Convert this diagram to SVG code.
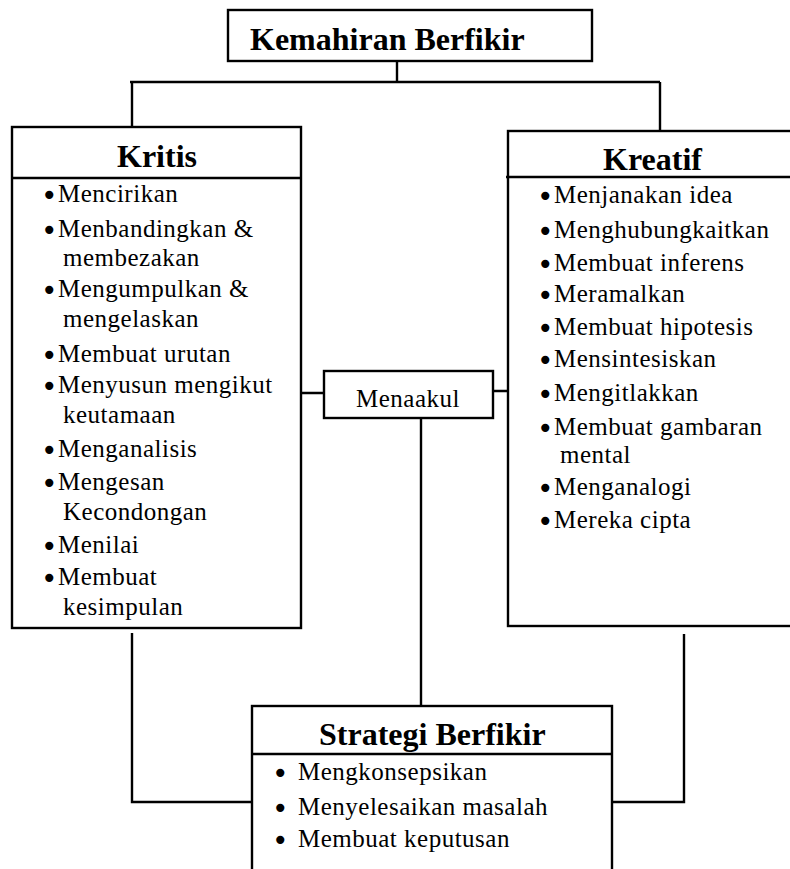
<svg xmlns="http://www.w3.org/2000/svg" width="790" height="869" viewBox="0 0 790 869">
<style>
.box{fill:#fff;stroke:#000;stroke-width:2.4}
.ln{fill:none;stroke:#000;stroke-width:2.4}
.t{font-family:"Liberation Serif","Times New Roman",serif;font-weight:bold;font-size:32px;fill:#000}
.i{font-family:"Liberation Serif","Times New Roman",serif;font-size:25px;letter-spacing:0.5px;fill:#000}
.b{font-family:"DejaVu Sans",sans-serif;font-size:28px;letter-spacing:0;baseline-shift:-3px}
</style>
<rect width="790" height="869" fill="#fff"/>
<g id="connectors">
<path class="ln" d="M397,61 V82 M130,82 H660 M132,82 V127 M660,82 V131"/>
<path class="ln" d="M301,393 H324 M493,391 H508 M421,418 V706"/>
<path class="ln" d="M132,633 V802 H252 M684,634 V802 H612"/>
</g>
<g id="kemahiran">
<rect class="box" x="228" y="10" width="364" height="51"/>
<text class="t" x="250" y="50">Kemahiran Berfikir</text>
</g>
<g id="kritis">
<rect class="box" x="12" y="127" width="289" height="501"/>
<path class="ln" d="M12,178 H301"/>
<text class="t" x="117" y="167">Kritis</text>
<g class="i">
<text x="41" y="202"><tspan class="b">•</tspan><tspan x="58">Mencirikan</tspan></text>
<text x="41" y="237"><tspan class="b">•</tspan><tspan x="58">Menbandingkan &amp;</tspan></text>
<text x="63" y="266">membezakan</text>
<text x="41" y="297"><tspan class="b">•</tspan><tspan x="58">Mengumpulkan &amp;</tspan></text>
<text x="63" y="327">mengelaskan</text>
<text x="41" y="362"><tspan class="b">•</tspan><tspan x="58">Membuat urutan</tspan></text>
<text x="41" y="393"><tspan class="b">•</tspan><tspan x="58">Menyusun mengikut</tspan></text>
<text x="63" y="423">keutamaan</text>
<text x="41" y="457"><tspan class="b">•</tspan><tspan x="58">Menganalisis</tspan></text>
<text x="41" y="490"><tspan class="b">•</tspan><tspan x="58">Mengesan</tspan></text>
<text x="63" y="520">Kecondongan</text>
<text x="41" y="553"><tspan class="b">•</tspan><tspan x="58">Menilai</tspan></text>
<text x="41" y="585"><tspan class="b">•</tspan><tspan x="58">Membuat</tspan></text>
<text x="63" y="615">kesimpulan</text>
</g>
</g>
<g id="kreatif">
<rect class="box" x="508" y="131" width="300" height="495"/>
<path class="ln" d="M506,177 H790"/>
<text class="t" x="603" y="170">Kreatif</text>
<g class="i">
<text x="537" y="203"><tspan class="b">•</tspan><tspan x="554">Menjanakan idea</tspan></text>
<text x="537" y="238"><tspan class="b">•</tspan><tspan x="554">Menghubungkaitkan</tspan></text>
<text x="537" y="271"><tspan class="b">•</tspan><tspan x="554">Membuat inferens</tspan></text>
<text x="537" y="302"><tspan class="b">•</tspan><tspan x="554">Meramalkan</tspan></text>
<text x="537" y="335"><tspan class="b">•</tspan><tspan x="554">Membuat hipotesis</tspan></text>
<text x="537" y="367"><tspan class="b">•</tspan><tspan x="554">Mensintesiskan</tspan></text>
<text x="537" y="401"><tspan class="b">•</tspan><tspan x="554">Mengitlakkan</tspan></text>
<text x="537" y="435"><tspan class="b">•</tspan><tspan x="554">Membuat gambaran</tspan></text>
<text x="560" y="463">mental</text>
<text x="537" y="495"><tspan class="b">•</tspan><tspan x="554">Menganalogi</tspan></text>
<text x="537" y="528"><tspan class="b">•</tspan><tspan x="554">Mereka cipta</tspan></text>
</g>
</g>
<g id="menaakul">
<rect class="box" x="324" y="371" width="169" height="47"/>
<text class="i" x="408" y="407" text-anchor="middle">Menaakul</text>
</g>
<g id="strategi">
<rect class="box" x="252" y="706" width="360" height="180"/>
<path class="ln" d="M252,754 H612"/>
<text class="t" x="319" y="745">Strategi Berfikir</text>
<g class="i">
<text x="272" y="780"><tspan class="b">•</tspan><tspan x="298">Mengkonsepsikan</tspan></text>
<text x="272" y="815"><tspan class="b">•</tspan><tspan x="298">Menyelesaikan masalah</tspan></text>
<text x="272" y="847"><tspan class="b">•</tspan><tspan x="298">Membuat keputusan</tspan></text>
</g>
</g>
</svg>
